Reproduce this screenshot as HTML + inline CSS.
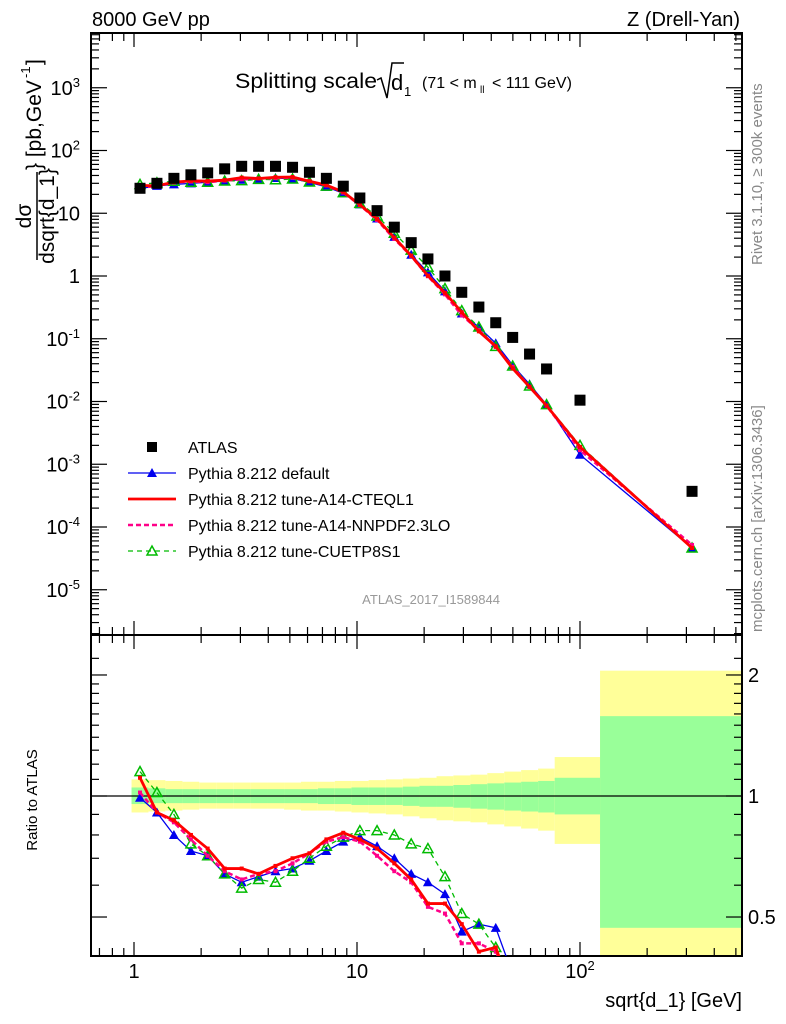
<!DOCTYPE html>
<html><head><meta charset="utf-8">
<style>
html,body{margin:0;padding:0;background:#fff;width:786px;height:1024px;overflow:hidden;}
svg{display:block;font-family:"Liberation Sans",Arial,sans-serif;}
</style></head>
<body>
<svg id="chart" width="786" height="1024" viewBox="0 0 786 1024" xmlns="http://www.w3.org/2000/svg">
<defs>
<clipPath id="clipMain"><rect x="91" y="33" width="651" height="602"/></clipPath>
<clipPath id="clipRatio"><rect x="91" y="635" width="651" height="321"/></clipPath>
</defs>
<g id="bands" clip-path="url(#clipRatio)"></g>
<g id="axes"></g>
<g id="series"></g>
<text x="92" y="26" font-size="20">8000 GeV pp</text>
<text x="740" y="26" font-size="20" text-anchor="end">Z (Drell-Yan)</text>
<g>
<text x="235" y="88" font-size="21" textLength="142" lengthAdjust="spacingAndGlyphs">Splitting scale</text>
<path d="M377,80 L381,78 L387,98 L392,63 L404,63" fill="none" stroke="#000" stroke-width="1.5"/>
<text x="391" y="90" font-size="22">d</text>
<text x="404" y="96" font-size="13">1</text>
<text x="422" y="88" font-size="16">(71 &lt; m</text>
<text x="480" y="93" font-size="10">ll</text>
<text x="492" y="88" font-size="16">&lt; 111 GeV)</text>
</g>
<g transform="translate(33,148) rotate(-90)">
<text x="-68" y="-2" font-size="21" text-anchor="middle">dσ</text>
<line x1="-112" y1="4" x2="-24" y2="4" stroke="#000" stroke-width="1.5"/>
<text x="-68" y="21" font-size="21" text-anchor="middle">dsqrt{d_1}</text>
<text x="-22" y="8" font-size="21">} [pb,GeV</text>
<text x="70" y="-3" font-size="13">-1</text>
<text x="83" y="8" font-size="21">]</text>
</g>
<text transform="translate(37,800) rotate(-90)" font-size="15" text-anchor="middle">Ratio to ATLAS</text>
<text transform="translate(762,265) rotate(-90)" font-size="15" fill="#888">Rivet 3.1.10, ≥ 300k events</text>
<text transform="translate(762,632) rotate(-90)" font-size="15" fill="#888">mcplots.cern.ch [arXiv:1306.3436]</text>
<text x="500" y="604" font-size="13" fill="#999" text-anchor="end">ATLAS_2017_I1589844</text>
<text x="742" y="1007" font-size="20" text-anchor="end">sqrt{d_1} [GeV]</text>
<g id="legend"></g>
</svg>
<script>
const xVals=[1.064,1.267,1.51,1.8,2.14,2.55,3.04,3.62,4.31,5.14,6.12,7.29,8.68,10.3,12.3,14.7,17.5,20.8,24.8,29.5,35.2,41.9,49.9,59.4,70.8,100,318];
const atlasVals=[25,30,36,41,44,51,56,56,56,54,45,36,27,17.5,11,6.0,3.4,1.87,1.0,0.55,0.32,0.18,0.105,0.057,0.033,0.0105,0.00037];
const ratioDefault=[0.99,0.91,0.80,0.73,0.71,0.64,0.61,0.63,0.65,0.66,0.69,0.73,0.77,0.79,0.75,0.70,0.64,0.61,0.57,0.46,0.48,0.47,0.36,0.33,0.27,0.135,0.125];
const ratioCTEQ=[1.11,0.91,0.87,0.80,0.74,0.66,0.66,0.64,0.67,0.70,0.72,0.78,0.81,0.78,0.74,0.68,0.62,0.54,0.54,0.48,0.41,0.42,0.32,0.30,0.26,0.18,0.125];
const ratioNNPDF=[1.02,0.91,0.86,0.78,0.71,0.65,0.62,0.64,0.65,0.68,0.72,0.77,0.79,0.77,0.71,0.65,0.61,0.53,0.51,0.43,0.43,0.41,0.34,0.30,0.26,0.16,0.14];
const ratioCUETP=[1.15,1.02,0.90,0.76,0.71,0.64,0.59,0.62,0.61,0.65,0.70,0.75,0.79,0.82,0.82,0.80,0.76,0.74,0.63,0.51,0.48,0.42,0.35,0.31,0.27,0.19,0.125];
const yellowUp=[1.10,1.095,1.09,1.085,1.08,1.08,1.08,1.08,1.08,1.08,1.085,1.085,1.09,1.09,1.095,1.10,1.105,1.11,1.12,1.125,1.13,1.14,1.15,1.16,1.17,1.25,2.05];
const yellowDn=[0.91,0.915,0.92,0.925,0.93,0.93,0.93,0.93,0.93,0.925,0.92,0.92,0.915,0.91,0.905,0.90,0.89,0.88,0.87,0.865,0.86,0.85,0.84,0.83,0.82,0.76,0.35];
const greenUp=[1.05,1.045,1.04,1.04,1.04,1.04,1.04,1.04,1.04,1.04,1.04,1.045,1.045,1.05,1.05,1.05,1.055,1.06,1.06,1.065,1.07,1.075,1.08,1.085,1.09,1.11,1.58];
const greenDn=[0.955,0.96,0.96,0.96,0.96,0.96,0.96,0.96,0.96,0.96,0.96,0.955,0.955,0.95,0.95,0.95,0.945,0.94,0.94,0.935,0.93,0.925,0.92,0.915,0.91,0.90,0.47];
const binLo=[0.975,1.161,1.383,1.649,1.961,2.336,2.785,3.317,3.949,4.709,5.608,6.679,7.953,9.44,11.27,13.47,16.04,19.06,22.73,27.04,32.26,38.40,45.73,54.44,64.9,77,123];
const binHi=[1.161,1.383,1.649,1.961,2.336,2.785,3.317,3.949,4.709,5.608,6.679,7.953,9.44,11.27,13.47,16.04,19.06,22.73,27.04,32.26,38.40,45.73,54.44,64.9,77,123,600];
const mainTicks=["10^3","10^2","10","1","10^-1","10^-2","10^-3","10^-4","10^-5"];
const xTickLabels=["1","10","10^2"];
const ratioTickLabels=["2","1","0.5"];

const NS="http://www.w3.org/2000/svg";
const L=91,R=742,MT=33,MB=635,RT=635,RB=956;
const xs=v=>134+223*Math.log10(v);
const ym=v=>276-62.75*Math.log10(v);
const yr=v=>796-402*Math.log10(v);
function mk(tag,attrs,parent){const e=document.createElementNS(NS,tag);for(const k in attrs)e.setAttribute(k,attrs[k]);parent.appendChild(e);return e;}
const axes=document.getElementById('axes'),bands=document.getElementById('bands'),series=document.getElementById('series'),legend=document.getElementById('legend');

for(let i=0;i<xVals.length;i++){
 const x1=xs(binLo[i]),x2=Math.min(xs(binHi[i]),R);
 let r=mk('rect',{x:x1,y:yr(yellowUp[i]),width:x2-x1,height:yr(yellowDn[i])-yr(yellowUp[i]),fill:'#ffff99'},bands);
 
 
 r=mk('rect',{x:x1,y:yr(greenUp[i]),width:x2-x1,height:yr(greenDn[i])-yr(greenUp[i]),fill:'#99ff99'},bands);
 
 
}
let f=mk('rect',{x:L,y:MT,width:R-L,height:MB-MT,fill:'none',stroke:'#000','stroke-width':2},axes);


f=mk('rect',{x:L,y:RT,width:R-L,height:RB-RT,fill:'none',stroke:'#000','stroke-width':2},axes);


mk('line',{x1:L,x2:R,y1:yr(1),y2:yr(1),stroke:'#000','stroke-width':1.3},axes);
for(let d=-1;d<=2;d++)for(let m=1;m<=9;m++){
 const v=m*Math.pow(10,d),x=xs(v);if(x<L||x>R)continue;
 const len=m==1?14:8;
 [[MT,1],[MB,-1],[RT,1],[RB,-1]].forEach(([y,s])=>mk('line',{x1:x,x2:x,y1:y,y2:y+s*len,stroke:'#000','stroke-width':1.2},axes));
}
xTickLabels.forEach((t,i)=>{
 const x=xs(Math.pow(10,i));
 const tx=mk('text',{x:x,y:978,'font-size':20,'text-anchor':'middle'},axes);
 
 
 if(t.includes('^')){tx.textContent='10';const s=mk('tspan',{dy:-8,'font-size':13},tx);s.textContent=t.split('^')[1];}
 else tx.textContent=t;
});
for(let d=-6;d<=4;d++)for(let m=1;m<=9;m++){
 const v=m*Math.pow(10,d),y=ym(v);if(y<MT||y>MB)continue;
 const len=m==1?16:8;
 mk('line',{x1:L,x2:L+len,y1:y,y2:y,stroke:'#000','stroke-width':1.2},axes);
 mk('line',{x1:R,x2:R-len,y1:y,y2:y,stroke:'#000','stroke-width':1.2},axes);
}
mainTicks.forEach((t,i)=>{
 const y=ym(Math.pow(10,3-i))+7;
 const tx=mk('text',{x:80,y:y,'font-size':20,'text-anchor':'end'},axes);
 
 
 if(t.includes('^')){tx.textContent='10';const s=mk('tspan',{dy:-8,'font-size':13},tx);s.textContent=t.split('^')[1];}
 else tx.textContent=t;
});
const rt=[0.4,0.5,0.6,0.7,0.8,0.9,1,1.1,1.2,1.3,1.4,1.5,1.6,1.7,1.8,1.9,2,2.2];
rt.forEach(v=>{const y=yr(v);if(y<RT||y>RB)return;const len=(v==0.5||v==1||v==2)?16:8;
 mk('line',{x1:L,x2:L+len,y1:y,y2:y,stroke:'#000','stroke-width':1.2},axes);
 mk('line',{x1:R,x2:R-len,y1:y,y2:y,stroke:'#000','stroke-width':1.2},axes);});
ratioTickLabels.forEach(t=>{
 const tx=mk('text',{x:748,y:yr(parseFloat(t))+7,'font-size':20},axes);
 
 
 tx.textContent=t;
});

const defs=[
 {name:'pythia-default',r:ratioDefault,color:'#0000ee',w:1.3,dash:'',marker:'tri'},
 {name:'pythia-cuetp8s1',r:ratioCUETP,color:'#00bb00',w:1.3,dash:'5,4',marker:'otri'},
 {name:'pythia-nnpdf',r:ratioNNPDF,color:'#ff0088',w:2.5,dash:'5,3',marker:'sq'},
 {name:'pythia-cteql1',r:ratioCTEQ,color:'#ff0000',w:2.8,dash:'',marker:'bar'}
];
function marker(g,type,x,y,c){
 if(type=='tri')mk('path',{d:`M${x-5},${y+4}L${x+5},${y+4}L${x},${y-5}Z`,fill:c},g);
 else if(type=='otri')mk('path',{d:`M${x-5},${y+4}L${x+5},${y+4}L${x},${y-5}Z`,fill:'none',stroke:c,'stroke-width':1.5},g);
 else mk('rect',{x:x-2,y:y-2,width:4,height:4,fill:c},g);
}
defs.forEach(s=>{
 const gm=mk('g',{'clip-path':'url(#clipMain)'},series);
 
 
 const gr=mk('g',{'clip-path':'url(#clipRatio)'},series);
 
 
 const pm=xVals.map((x,i)=>`${xs(x)},${ym(atlasVals[i]*s.r[i])}`).join(' ');
 const pr=xVals.map((x,i)=>`${xs(x)},${yr(s.r[i])}`).join(' ');
 mk('polyline',{points:pm,fill:'none',stroke:s.color,'stroke-width':s.w,'stroke-dasharray':s.dash},gm);
 mk('polyline',{points:pr,fill:'none',stroke:s.color,'stroke-width':s.w,'stroke-dasharray':s.dash},gr);
 xVals.forEach((x,i)=>{
  marker(gm,s.marker,xs(x),ym(atlasVals[i]*s.r[i]),s.color);
  marker(gr,s.marker,xs(x),yr(s.r[i]),s.color);
 });
});
const ga=mk('g',{},series);


xVals.forEach((x,i)=>{
 const p=mk('rect',{x:xs(x)-5.5,y:ym(atlasVals[i])-5.5,width:11,height:11,fill:'#000'},ga);
 
 
});

const leg=[
 {t:'ATLAS',type:'atlas'},
 {t:'Pythia 8.212 default',c:'#0000ee',w:1.3,d:'',m:'tri'},
 {t:'Pythia 8.212 tune-A14-CTEQL1',c:'#ff0000',w:2.8,d:'',m:''},
 {t:'Pythia 8.212 tune-A14-NNPDF2.3LO',c:'#ff0088',w:2.5,d:'5,3',m:''},
 {t:'Pythia 8.212 tune-CUETP8S1',c:'#00bb00',w:1.3,d:'5,4',m:'otri'}
];
leg.forEach((e,i)=>{
 const y=447+i*26;
 const g=mk('g',{},legend);
 
 
 if(e.type=='atlas')mk('rect',{x:147,y:y-5,width:10,height:10,fill:'#000'},g);
 else{
  mk('line',{x1:128,x2:176,y1:y,y2:y,stroke:e.c,'stroke-width':e.w,'stroke-dasharray':e.d},g);
  if(e.m)marker(g,e.m,152,y,e.c);
 }
 const t=mk('text',{x:188,y:y+6,'font-size':16},g);
 t.textContent=e.t;
});
</script>
</body></html>
